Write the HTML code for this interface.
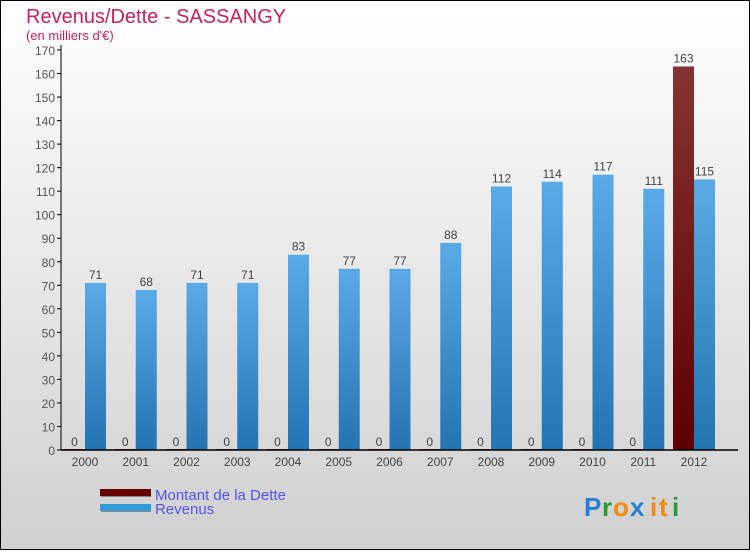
<!DOCTYPE html>
<html><head><meta charset="utf-8"><style>
body{margin:0;width:750px;height:550px;overflow:hidden;font-family:"Liberation Sans",sans-serif}
</style></head><body>
<svg id="chart" width="750" height="550" xmlns="http://www.w3.org/2000/svg">
<defs>
<linearGradient id="bg" x1="0" y1="0" x2="0" y2="1"><stop offset="0" stop-color="#ffffff"/><stop offset="1" stop-color="#d0d0d0"/></linearGradient>
<linearGradient id="rev" x1="0" y1="0" x2="0" y2="1"><stop offset="0" stop-color="#5aaae8"/><stop offset="1" stop-color="#2374b2"/></linearGradient>
<linearGradient id="det" x1="0" y1="0" x2="0" y2="1"><stop offset="0" stop-color="#853434"/><stop offset="1" stop-color="#5c0000"/></linearGradient>
</defs>
<rect x="0.5" y="0.5" width="749" height="549" fill="url(#bg)" stroke="#000"/>
<text x="26" y="23" font-size="20" fill="#c8205f">Revenus/Dette - SASSANGY</text>
<text x="26" y="40" font-size="13" fill="#c8205f">(en milliers d'€)</text>
<g id="plot"></g>
<g>
<rect x="101" y="490" width="50" height="7" fill="#888"/><rect x="100" y="489" width="51" height="7" fill="#660000"/>
<text x="155" y="500" font-size="15" fill="#5555ee">Montant de la Dette</text>
<rect x="101" y="505" width="50" height="7" fill="#888"/><rect x="100" y="504" width="51" height="7" fill="#3399dd"/>
<text x="155" y="514" font-size="15" fill="#5555ee">Revenus</text>
</g>
<g font-size="26" font-weight="bold">
<text x="584" y="516" fill="#2a7fd4">P</text><text x="602" y="516" fill="#2a9a3a">r</text><text x="613" y="516" fill="#f08a10">o</text><text x="630" y="516" fill="#2a7fd4">x</text><text x="650" y="516" fill="#f08a10">i</text><text x="659" y="516" fill="#f08a10">t</text><text x="672" y="516" fill="#2a9a3a">i</text>
</g>
</svg>
<script>
const years=["2000","2001","2002","2003","2004","2005","2006","2007","2008","2009","2010","2011","2012"];
const dette=[0,0,0,0,0,0,0,0,0,0,0,0,163];
const revenus=[71,68,71,71,83,77,77,88,112,114,117,111,115];
const yTicks=[0,10,20,30,40,50,60,70,80,90,100,110,120,130,140,150,160,170];
const NS="http://www.w3.org/2000/svg";
const g=document.getElementById('plot');
const y=v=>450-v*400/170;
const x=i=>85+i*50.75;
function mk(t,a,txt){const e=document.createElementNS(NS,t);for(const k in a)e.setAttribute(k,a[k]);if(txt!==undefined)e.textContent=txt;g.appendChild(e);return e;}
yTicks.forEach(v=>{
 const l=mk('line',{x1:57,x2:61,y1:y(v),y2:y(v),stroke:'#000'});
 
 
 const t=mk('text',{x:55,y:y(v)+5,'text-anchor':'end','font-size':12,fill:'#555'},v);
 
 
});
years.forEach((yr,i)=>{
 const c=x(i);
 const hd=Math.max(y(0)-y(dette[i]),1);
 const d=mk('rect',{x:c-21,y:y(0)-hd,width:21,height:hd,fill:'url(#det)'});
 
 
 const r=mk('rect',{x:c,y:y(revenus[i]),width:21,height:y(0)-y(revenus[i]),fill:'url(#rev)'});
 
 
 const l1=mk('text',{x:c-10.5,y:y(dette[i])-4,'text-anchor':'middle','font-size':12,fill:'#444'},dette[i]);
 
 
 const l2=mk('text',{x:c+10.5,y:y(revenus[i])-4,'text-anchor':'middle','font-size':12,fill:'#444'},revenus[i]);
 
 
 const xl=mk('text',{x:c,y:466,'text-anchor':'middle','font-size':12,fill:'#444'},yr);
 
 
});
const ya=mk('line',{x1:61,x2:61,y1:45,y2:450,stroke:'#000'});


const xa=mk('line',{x1:61,x2:738,y1:450,y2:450,stroke:'#000','stroke-width':1.5});


</script>
</body></html>
